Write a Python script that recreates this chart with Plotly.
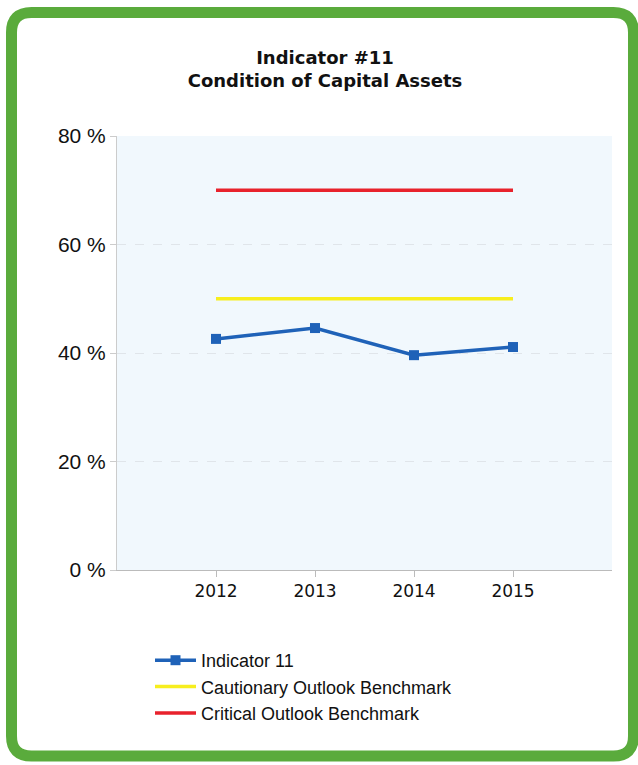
import plotly.graph_objects as go

years = ["2012", "2013", "2014", "2015"]
indicator = [42.6, 44.6, 39.6, 41.1]
cautionary = [50, 50, 50, 50]
critical = [70, 70, 70, 70]
y_ticks = [0, 20, 40, 60, 80]
y_labels = ["0 %", "20 %", "40 %", "60 %", "80 %"]

W, H = 638, 765
L, R, T, B = 117, 26, 136, 195
PW, PH = W - L - R, H - T - B

def px(x):
    return (x - L) / PW

def py(y):
    return (H - B - y) / PH

fig = go.Figure()
fig.add_trace(go.Scatter(x=years, y=indicator, name="Indicator 11", mode="lines+markers",
                         line=dict(color="#1f62b8", width=3.5),
                         marker=dict(symbol="square", size=10, color="#1f62b8")))
fig.add_trace(go.Scatter(x=years, y=cautionary, name="Cautionary Outlook Benchmark", mode="lines",
                         line=dict(color="#f7ee1e", width=3.5)))
fig.add_trace(go.Scatter(x=years, y=critical, name="Critical Outlook Benchmark", mode="lines",
                         line=dict(color="#e8222c", width=3.5)))

# rounded green frame
x0, x1, y0, y1, r = 11.5, 633.5, 12.5, 756, 20
path = (f"M {px(x0+r)} {py(y0)} L {px(x1-r)} {py(y0)} Q {px(x1)} {py(y0)} {px(x1)} {py(y0+r)} "
        f"L {px(x1)} {py(y1-r)} Q {px(x1)} {py(y1)} {px(x1-r)} {py(y1)} "
        f"L {px(x0+r)} {py(y1)} Q {px(x0)} {py(y1)} {px(x0)} {py(y1-r)} "
        f"L {px(x0)} {py(y0+r)} Q {px(x0)} {py(y0)} {px(x0+r)} {py(y0)} Z")
fig.add_shape(type="path", path=path, xref="paper", yref="paper",
              line=dict(color="#5aab3c", width=11), layer="above")

fig.update_layout(
    width=W, height=H,
    margin=dict(l=L, r=R, t=T, b=B),
    paper_bgcolor="white",
    plot_bgcolor="#f1f8fd",
    title=dict(text="Indicator #11<br>Condition of Capital Assets",
               x=325 / W, xanchor="center", y=1 - 64 / H, yanchor="middle",
               font=dict(family="DejaVu Sans", size=18, color="#111111", weight="bold")),
    showlegend=True,
    legend=dict(x=px(150), y=py(642), xanchor="left", yanchor="top",
                font=dict(family="Liberation Sans", size=18, color="#111111"),
                bgcolor="rgba(0,0,0,0)", tracegroupgap=0, itemwidth=41),
    xaxis=dict(type="category", range=[-1, 4], showgrid=False,
               showline=True, linecolor="#bbbbbb", linewidth=1,
               ticks="outside", ticklen=6, tickcolor="#bbbbbb",
               tickfont=dict(family="DejaVu Sans", size=17, color="#111111")),
    yaxis=dict(range=[0, 80], tickvals=y_ticks, ticktext=y_labels,
               showgrid=True, gridcolor="#e0e5ea", griddash="dash", gridwidth=1,
               showline=True, linecolor="#cccccc", linewidth=1,
               ticks="outside", ticklen=6, tickcolor="#cccccc",
               zeroline=False,
               tickfont=dict(family="Liberation Sans", size=21, color="#111111")),
)

fig.write_html("out.html", config={"displayModeBar": False},
               post_script="document.body.style.margin='0';")
